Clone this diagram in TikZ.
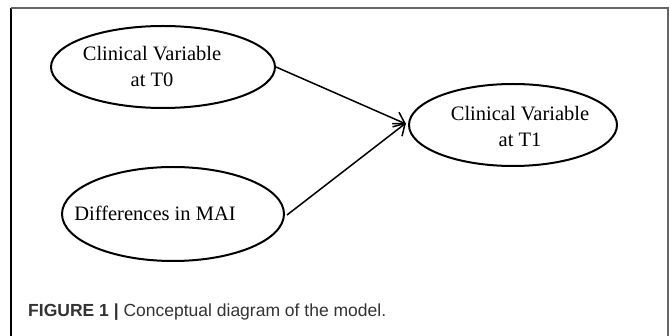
\documentclass[tikz,border=0pt]{standalone}
\usepackage{fontspec}
\setmainfont{Liberation Serif}
\newfontfamily\capfont{Liberation Sans}
\usetikzlibrary{shapes.geometric,arrows.meta}
\definecolor{framegray}{HTML}{666666}
\definecolor{captext}{HTML}{333333}
\begin{document}
\begin{tikzpicture}[x=1pt,y=-1pt,
  oval/.style={draw=black,line width=2pt,ellipse,inner sep=0pt},
  lbl/.style={font=\fontsize{20.5}{26}\selectfont,align=center,inner sep=0pt},
  conn/.style={line width=1.5pt,-{Straight Barb[length=10pt,width=16pt,line width=1.5pt]}}]
\useasboundingbox (0,0) rectangle (670,336);
\fill[white] (0,0) rectangle (670,336);
% frame
\draw[black,line width=1.6pt] (11,337) -- (11,8);
\draw[framegray,line width=1.6pt] (11,8) -- (668,8) -- (668,337);
% ellipses
\node[oval,minimum width=224pt,minimum height=82pt] (e0) at (163,67) {};
\node[oval,minimum width=208pt,minimum height=82pt] (e1) at (513,125) {};
\node[oval,minimum width=222pt,minimum height=94pt] (e2) at (173,214) {};
% labels
\node[lbl] (t0) at (152,66) {Clinical Variable\\at T0};
\node[lbl] (t1) at (520,126) {Clinical Variable\\at T1};
\node[lbl] (t2) at (155,213) {Differences in MAI};
% connectors
\draw[conn] (e0.east) -- ([xshift=-2pt,yshift=1pt]e1.west);
\draw[conn] ([xshift=2pt,yshift=-1pt]e2.east) -- ([xshift=-2pt,yshift=2pt]e1.west);
% caption
\node[anchor=base west,inner sep=0pt,text=captext,font=\capfont\fontsize{17.5}{21}\selectfont] (cap) at (28,317) {\textbf{FIGURE 1 |} Conceptual diagram of the model.};
\end{tikzpicture}
\end{document}
